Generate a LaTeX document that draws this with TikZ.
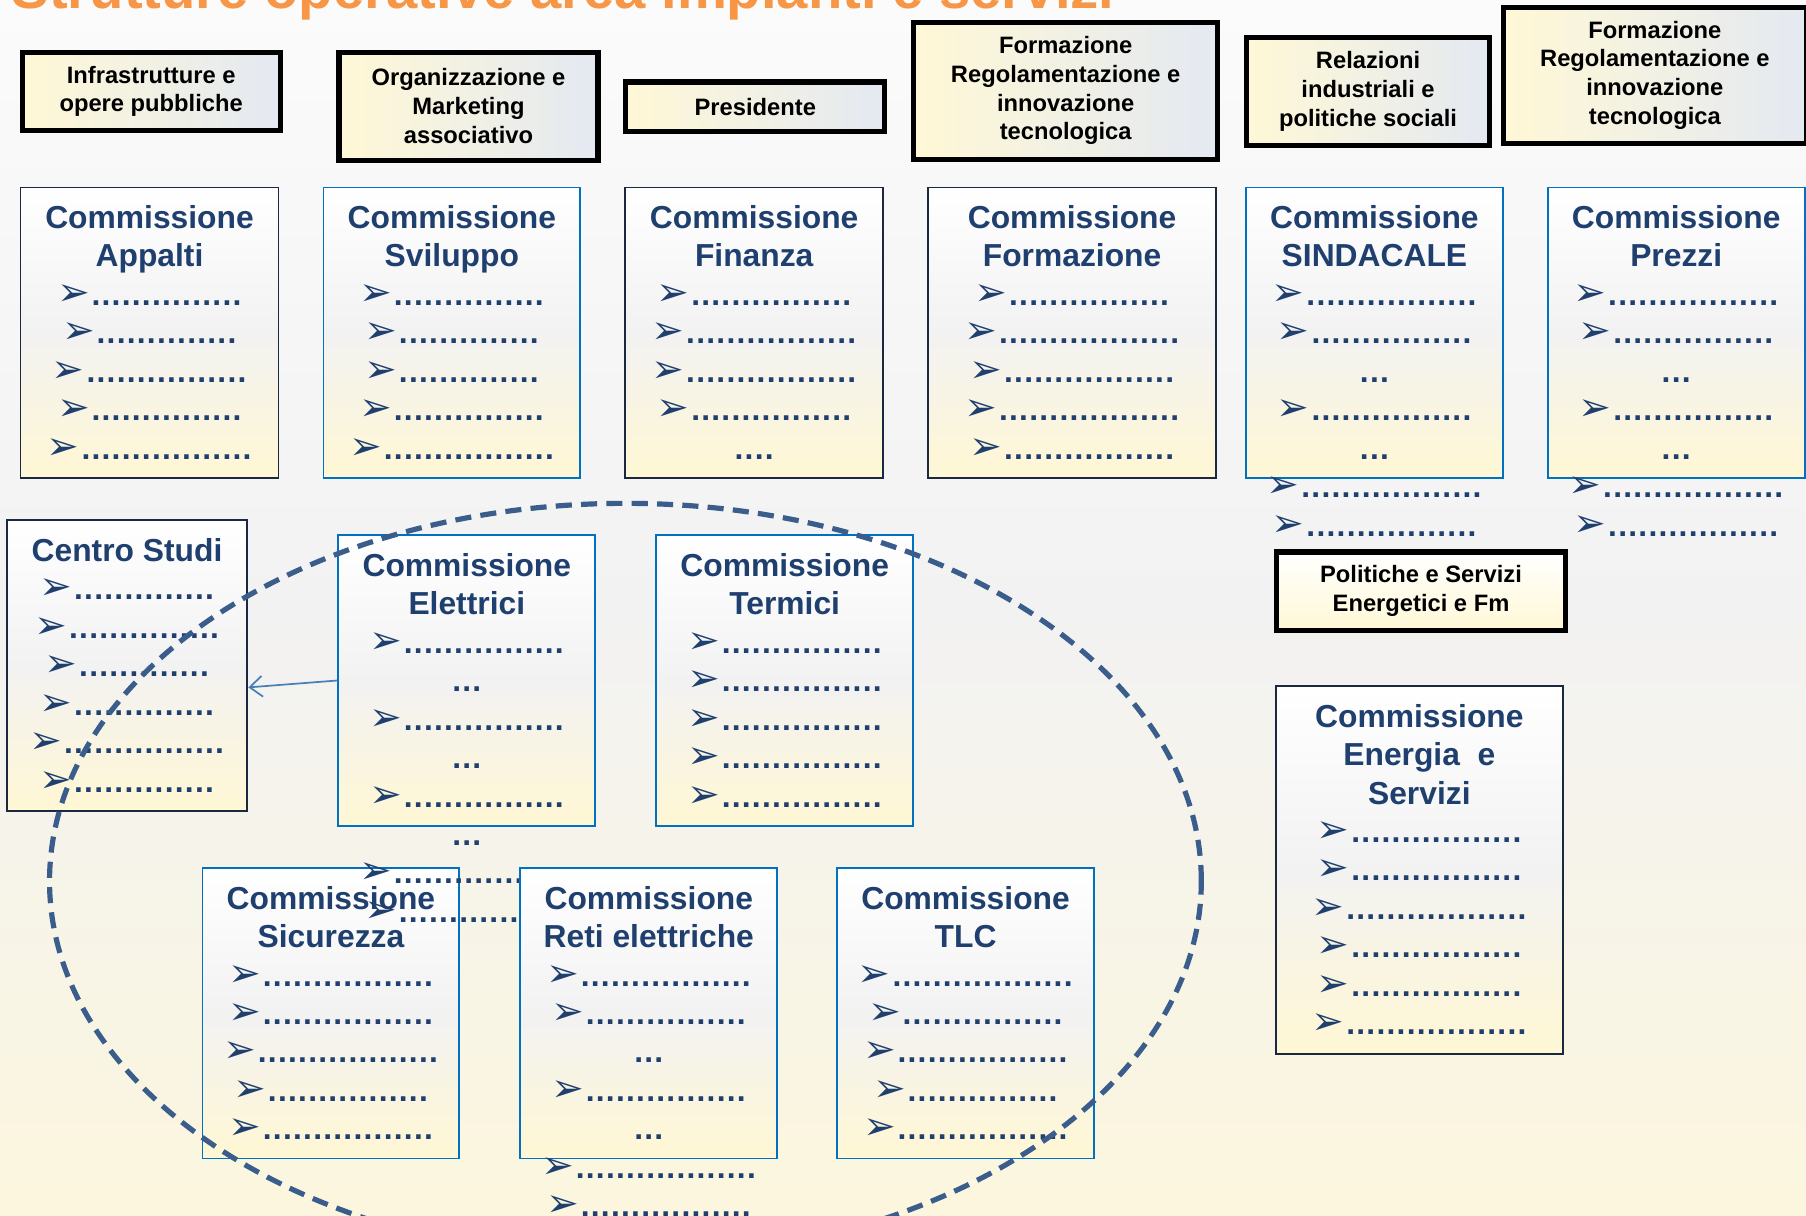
\documentclass[tikz,border=0pt]{standalone}
\usepackage{fontspec}
\setmainfont{Liberation Sans}
\newfontfamily\arrf{DejaVu Sans}
\usetikzlibrary{arrows.meta}
\definecolor{navy}{HTML}{1F3F6F}
\definecolor{bblue}{HTML}{0070C0}
\definecolor{dkb}{HTML}{1B2940}
\definecolor{cgray}{HTML}{F2F2F2}
\definecolor{cyel}{HTML}{FFF7D4}
\definecolor{tyel}{HTML}{FFF8D6}
\definecolor{tblu}{HTML}{E4E9F2}
\definecolor{ellc}{HTML}{3A5D8C}
\definecolor{arrc}{HTML}{4A7EBB}
\definecolor{orng}{HTML}{F79646}
\definecolor{bgtop}{HTML}{FBFBFB}
\definecolor{bgmid}{HTML}{F2F2F2}
\definecolor{bgbot}{HTML}{FCF6DE}
\newcommand\dotrow[1]{\ifnum#1>0 \makebox[8.74pt]{.}\expandafter\dotrow\expandafter{\number\numexpr#1-1\relax}\fi}
\newcommand\bitem[1]{{\arrf\fontsize{34}{33.4}\selectfont ➢}\hspace{1pt}\dotrow{#1}}
\tikzset{
 cbox/.style={draw=bblue, line width=1.6pt, top color=white, bottom color=cyel, middle color=cgray, inner sep=0pt, anchor=north west},
 dbox/.style={cbox, draw=dkb},
 ctext/.style={anchor=north, inner sep=0pt, align=center, text=navy, font=\fontsize{27.6}{33.4}\selectfont\bfseries},
 tbox/.style={draw=black, line width=4.5pt, left color=tyel, right color=tblu, inner sep=0pt, anchor=north west, align=center, font=\fontsize{20.6}{25}\selectfont\bfseries},
 pbox/.style={tbox, top color=white, bottom color=tyel},
 ring/.style={draw=ellc, line width=4.5pt, dash pattern=on 14pt off 8pt},
 link/.style={draw=arrc, line width=1.5pt, -{Straight Barb[length=11pt,width=18pt]}}
}
\begin{document}
\begin{tikzpicture}[x=1pt,y=-1pt]
\useasboundingbox (0,0) rectangle (1568,1055);
\fill[top color=bgtop, bottom color=bgbot, middle color=bgmid] (0,0) rectangle (1568,1055);
\node[anchor=base west, inner sep=0pt, text=orng, font=\fontsize{48.8}{50}\selectfont\bfseries] (title) at (10,7) {Strutture operative area impianti e servizi};

% top boxes
\node[tbox, minimum width=224pt, minimum height=68pt] (t1) at (17,43) {Infrastrutture e\\opere pubbliche};
\node[tbox, minimum width=225pt, minimum height=94pt] (t2) at (292,43) {Organizzazione e\\Marketing\\associativo};
\node[tbox, minimum width=225pt, minimum height=43pt] (t3) at (541,69) {Presidente};
\node[tbox, minimum width=264pt, minimum height=119pt] (t4) at (791,17) {Formazione\\Regolamentazione e\\innovazione\\tecnologica};
\node[tbox, minimum width=211pt, minimum height=94pt] (t5) at (1080,30) {Relazioni\\industriali e\\politiche sociali};
\node[tbox, minimum width=263pt, minimum height=118pt] (t6) at (1303,4) {Formazione\\Regolamentazione e\\innovazione\\tecnologica};

% row 1
\node[dbox, minimum width=224pt, minimum height=252pt] (app) at (17,162) {};
\node[ctext] (appt) at ([yshift=-12.7pt]app.north) {\strut Commissione\\Appalti\\\bitem{15}\\\bitem{14}\\\bitem{16}\\\bitem{15}\\\bitem{17}};
\node[cbox, minimum width=223pt, minimum height=252pt] (svi) at (280,162) {};
\node[ctext] (svit) at ([yshift=-12.7pt]svi.north) {\strut Commissione\\Sviluppo\\\bitem{15}\\\bitem{14}\\\bitem{14}\\\bitem{15}\\\bitem{17}};
\node[dbox, minimum width=224pt, minimum height=252pt] (fin) at (542,162) {};
\node[ctext] (fint) at ([yshift=-12.7pt]fin.north) {\strut Commissione\\Finanza\\\bitem{16}\\\bitem{17}\\\bitem{17}\\\bitem{16}\\\dotrow{4}};
\node[dbox, minimum width=250pt, minimum height=252pt] (frm) at (805,162) {};
\node[ctext] (frmt) at ([yshift=-12.7pt]frm.north) {\strut Commissione\\Formazione\\\bitem{16}\\\bitem{18}\\\bitem{17}\\\bitem{18}\\\bitem{17}};
\node[cbox, minimum width=223pt, minimum height=252pt] (sin) at (1081,162) {};
\node[ctext] (sint) at ([yshift=-12.7pt]sin.north) {\strut Commissione\\SINDACALE\\\bitem{17}\\\bitem{16}\\\dotrow{3}\\\bitem{16}\\\dotrow{3}\\\bitem{18}\\\bitem{17}};
\node[cbox, minimum width=223pt, minimum height=252pt] (prz) at (1343,162) {};
\node[ctext] (przt) at ([yshift=-12.7pt]prz.north) {\strut Commissione\\Prezzi\\\bitem{17}\\\bitem{16}\\\dotrow{3}\\\bitem{16}\\\dotrow{3}\\\bitem{18}\\\bitem{17}};

% right column
\node[pbox, minimum width=251pt, minimum height=68pt] (pol) at (1106,477) {Politiche e Servizi\\Energetici e Fm};
\node[dbox, minimum width=249pt, minimum height=319pt] (ene) at (1107,595) {};
\node[ctext] (enet) at ([yshift=-12.7pt]ene.north) {\strut Commissione\\Energia\ \ e\\Servizi\\\bitem{17}\\\bitem{17}\\\bitem{18}\\\bitem{17}\\\bitem{17}\\\bitem{18}};

% row 2
\node[dbox, minimum width=209pt, minimum height=252pt] (cs) at (5,451) {};
\node[ctext] (cst) at ([yshift=-12.7pt]cs.north) {\strut Centro Studi\\\bitem{14}\\\bitem{15}\\\bitem{13}\\\bitem{14}\\\bitem{16}\\\bitem{14}};
\node[cbox, minimum width=223pt, minimum height=252pt] (elt) at (293,464) {};
\node[cbox, minimum width=223pt, minimum height=252pt] (ter) at (569,464) {};
\node[ctext] (tert) at ([yshift=-12.7pt]ter.north) {\strut Commissione\\Termici\\\bitem{16}\\\bitem{16}\\\bitem{16}\\\bitem{16}\\\bitem{16}};
\node[cbox, minimum width=223pt, minimum height=252pt] (sic) at (175,753) {};
\node[ctext] (sict) at ([yshift=-12.7pt]sic.north) {\strut Commissione\\Sicurezza\\\bitem{17}\\\bitem{17}\\\bitem{18}\\\bitem{16}\\\bitem{17}};
\node[ctext] (eltt) at ([yshift=-12.7pt]elt.north) {\strut Commissione\\Elettrici\\\bitem{16}\\\dotrow{3}\\\bitem{16}\\\dotrow{3}\\\bitem{16}\\\dotrow{3}\\\bitem{18}\\\bitem{17}};
\node[cbox, minimum width=223pt, minimum height=252pt] (ret) at (451,753) {};
\node[ctext] (rett) at ([yshift=-12.7pt]ret.north) {\strut Commissione\\Reti elettriche\\\bitem{17}\\\bitem{16}\\\dotrow{3}\\\bitem{16}\\\dotrow{3}\\\bitem{18}\\\bitem{17}};
\node[cbox, minimum width=223pt, minimum height=252pt] (tlc) at (726,753) {};
\node[ctext] (tlct) at ([yshift=-12.7pt]tlc.north) {\strut Commissione\\TLC\\\bitem{18}\\\bitem{16}\\\bitem{17}\\\bitem{15}\\\bitem{17}};

% connector
\draw[link] (elt.west) -- ([yshift=-19pt]cs.east);

% dashed ring
\draw[ring] (543,765) ellipse [x radius=500pt, y radius=328pt];
\end{tikzpicture}
\end{document}
